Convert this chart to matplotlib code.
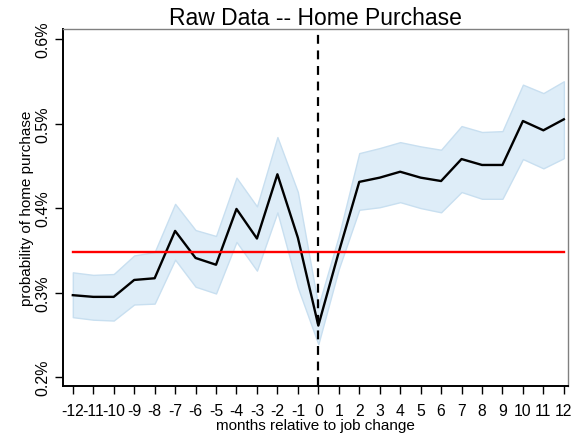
import numpy as np
import matplotlib
matplotlib.use("Agg")
import matplotlib.pyplot as plt

plt.rcParams['font.family'] = ['Liberation Sans', 'DejaVu Sans']
plt.rcParams['axes.unicode_minus'] = False

# months relative to job change
months = list(range(-12, 13))

# probability of home purchase (%), point estimate and band
prob = [0.297, 0.295, 0.295, 0.315, 0.317, 0.373, 0.341, 0.333, 0.399, 0.364,
        0.440, 0.365, 0.261, 0.348, 0.431, 0.436, 0.443, 0.436, 0.432, 0.458,
        0.451, 0.451, 0.503, 0.492, 0.505]
upper = [0.324, 0.321, 0.322, 0.344, 0.348, 0.405, 0.374, 0.367, 0.436, 0.402,
         0.484, 0.419, 0.284, 0.367, 0.465, 0.471, 0.478, 0.473, 0.469, 0.497,
         0.490, 0.491, 0.546, 0.536, 0.550]
lower = [0.271, 0.268, 0.267, 0.286, 0.287, 0.339, 0.307, 0.299, 0.360, 0.326,
         0.395, 0.306, 0.239, 0.328, 0.398, 0.401, 0.407, 0.400, 0.395, 0.419,
         0.411, 0.411, 0.458, 0.447, 0.459]
mean_level = 0.348

yticks = [0.2, 0.3, 0.4, 0.5, 0.6]

fig = plt.figure(figsize=(5.76, 4.35), dpi=100)
ax = fig.add_axes([0.109, 0.110, 0.877, 0.821])

ax.fill_between(months, lower, upper, color='#deedf8', edgecolor='#c8dff0', linewidth=1)
ax.plot(months, prob, color='black', linewidth=1.7, zorder=3)
ax.plot([months[0], months[-1]], [mean_level, mean_level], color='red', linewidth=1.7, zorder=4)
ax.axvline(0, color='black', linestyle=(0, (4, 3)), linewidth=1.6, zorder=5)

ax.set_xlim(-12.49, 12.2)
ax.set_ylim(0.1894, 0.6118)
ax.set_xticks(months)
ax.set_xticklabels([str(m) for m in months], fontsize=11.3)
ax.set_yticks(yticks)
ax.set_yticklabels([f"{t:.1f}%" for t in yticks], rotation=90, va='center', fontsize=11.5)

ax.tick_params(direction='out', length=6, width=1, pad=3)
ax.tick_params(axis='x', pad=6)

for s in ['left', 'bottom']:
    ax.spines[s].set_linewidth(1.4)
    ax.spines[s].set_color('black')
for s in ['top', 'right']:
    ax.spines[s].set_linewidth(1.0)
    ax.spines[s].set_color('#808080')

ax.set_title("Raw Data -- Home Purchase", fontsize=16.5, pad=2)
ax.set_xlabel("months relative to job change", fontsize=11, labelpad=0)
ax.set_ylabel("probability of home purchase", fontsize=11, labelpad=1)

fig.savefig("out.png", dpi=100)
